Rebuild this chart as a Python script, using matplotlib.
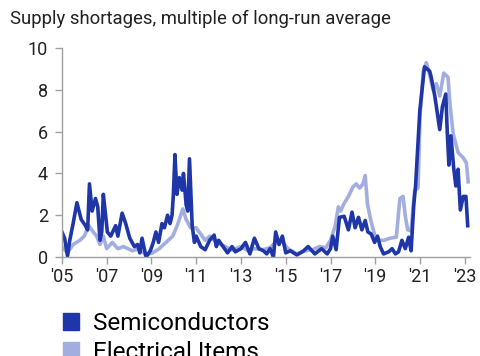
import matplotlib
matplotlib.use("Agg")
import matplotlib.pyplot as plt
from matplotlib.patches import Patch

plt.rcParams['font.family'] = ['Roboto', 'DejaVu Sans']

# Semiconductors: decimal year, multiple of long-run average
semi_t = [2005.00, 2005.12, 2005.25, 2005.35, 2005.50, 2005.67, 2005.86, 2006.05, 2006.15, 2006.23,
          2006.35, 2006.50, 2006.60, 2006.70, 2006.78, 2006.85, 2006.95, 2007.03, 2007.18, 2007.40,
          2007.50, 2007.69, 2007.85, 2008.03, 2008.24, 2008.38, 2008.48, 2008.58, 2008.76, 2008.95,
          2009.08, 2009.20, 2009.32, 2009.47, 2009.58, 2009.72, 2009.83, 2009.92, 2009.98, 2010.05,
          2010.14, 2010.25, 2010.37, 2010.43, 2010.55, 2010.62, 2010.70, 2010.82, 2010.92, 2011.00,
          2011.20, 2011.40, 2011.60, 2011.80, 2011.90, 2012.00, 2012.20, 2012.40, 2012.60, 2012.75,
          2013.00, 2013.20, 2013.40, 2013.60, 2013.80, 2014.00, 2014.15, 2014.30, 2014.45, 2014.55,
          2014.70, 2014.85, 2015.00, 2015.20, 2015.50, 2015.80, 2016.00, 2016.30, 2016.60, 2016.85,
          2017.00, 2017.10, 2017.25, 2017.40, 2017.61, 2017.80, 2017.96, 2018.10, 2018.25, 2018.40,
          2018.55, 2018.67, 2018.82, 2018.97, 2019.10, 2019.22, 2019.37, 2019.60, 2019.75, 2019.90,
          2020.04, 2020.19, 2020.34, 2020.49, 2020.60, 2020.72, 2020.80, 2020.99, 2021.20, 2021.43,
          2021.50, 2021.66, 2021.88, 2022.00, 2022.15, 2022.22, 2022.29, 2022.38, 2022.50, 2022.60,
          2022.70, 2022.80, 2022.93, 2023.05, 2023.13]
semi_v = [1.2, 0.9, 0.05, 0.8, 1.6, 2.6, 1.8, 1.5, 1.3, 3.5,
          2.2, 2.8, 2.4, 0.8, 1.2, 3.0, 2.0, 1.2, 1.0, 1.5,
          1.0, 2.1, 1.6, 0.9, 0.5, 0.6, 0.2, 0.9, 0.0, 0.3,
          0.7, 1.2, 0.7, 1.6, 1.4, 2.0, 1.6, 2.0, 3.0, 4.9,
          3.0, 3.8, 3.2, 4.0, 2.5, 2.2, 4.7, 1.5, 0.7, 1.0,
          0.5, 0.35, 0.8, 1.05, 0.5, 0.8, 0.5, 0.2, 0.5, 0.25,
          0.4, 0.7, 0.15, 0.9, 0.4, 0.3, 0.15, 0.4, 0.0, 1.2,
          0.6, 1.0, 0.2, 0.3, 0.1, 0.3, 0.5, 0.15, 0.4, 0.15,
          0.4, 1.0, 0.35, 1.9, 1.95, 1.3, 2.15, 1.4, 1.9, 1.3,
          1.75, 1.2, 1.1, 0.7, 1.0, 0.5, 0.15, 0.25, 0.4, 0.15,
          0.25, 0.8, 0.4, 0.95, 0.3, 2.5, 3.4, 7.0, 9.1, 8.9,
          8.6, 7.7, 6.1, 7.2, 7.8, 5.9, 4.4, 5.8, 4.3, 3.4,
          4.2, 2.25, 2.9, 2.9, 1.5]

# Electrical items
elec_t = [2005.00, 2005.25, 2005.50, 2005.80, 2006.00, 2006.20, 2006.40, 2006.55, 2006.70, 2006.85,
          2007.00, 2007.25, 2007.50, 2007.75, 2008.15, 2008.45, 2008.75, 2009.05, 2009.35, 2009.65,
          2009.95, 2010.15, 2010.40, 2010.55, 2010.75, 2011.00, 2011.20, 2011.40, 2011.60, 2011.80,
          2012.00, 2012.30, 2012.60, 2013.00, 2013.30, 2013.60, 2014.00, 2014.30, 2014.50, 2014.80,
          2015.10, 2015.50, 2015.90, 2016.20, 2016.50, 2016.80, 2017.00, 2017.20, 2017.35, 2017.45,
          2017.60, 2017.80, 2018.00, 2018.15, 2018.30, 2018.45, 2018.55, 2018.65, 2018.80, 2019.00,
          2019.20, 2019.40, 2019.65, 2019.94, 2020.10, 2020.24, 2020.35, 2020.45, 2020.60, 2020.76,
          2020.91, 2021.00, 2021.14, 2021.28, 2021.43, 2021.58, 2021.73, 2021.88, 2022.06, 2022.25,
          2022.33, 2022.48, 2022.70, 2022.93, 2023.07, 2023.15]
elec_v = [0.5, 0.2, 0.6, 0.8, 1.0, 1.5, 1.2, 1.0, 0.6, 1.0,
          0.4, 0.7, 0.4, 0.5, 0.3, 0.4, 0.1, 0.2, 0.4, 0.7,
          1.0, 1.5, 2.3, 1.8, 1.4, 1.4, 1.1, 0.8, 1.0, 0.8,
          0.65, 0.5, 0.33, 0.5, 0.3, 0.4, 0.35, 0.45, 0.65, 0.8,
          0.4, 0.15, 0.3, 0.35, 0.5, 0.45, 0.8, 1.45, 2.4, 2.2,
          2.55, 2.9, 3.35, 3.5, 3.3, 3.5, 3.9, 2.55, 1.75, 0.95,
          0.8, 0.8, 0.9, 0.95, 2.8, 2.9, 1.9, 1.3, 1.25, 3.2,
          3.3, 6.7, 8.9, 9.3, 8.7, 8.0, 8.3, 7.7, 8.8, 8.6,
          7.4, 5.9, 5.0, 4.75, 4.5, 3.6]

years = [2005, 2007, 2009, 2011, 2013, 2015, 2017, 2019, 2021, 2023]
year_labels = ["'05", "'07", "'09", "'11", "'13", "'15", "'17", "'19", "'21", "'23"]
y_ticks = [0, 2, 4, 6, 8, 10]

dark = '#1f36a8'
light = '#a3aee0'
grey = '#a0a0a0'

fig = plt.figure(figsize=(4.8, 3.56), dpi=100)
ax = fig.add_axes([0.129, 0.278, 0.851, 0.587])

ax.plot(elec_t, elec_v, color=light, lw=2.6, solid_joinstyle='round')
ax.plot(semi_t, semi_v, color=dark, lw=2.6, solid_joinstyle='round')

ax.set_xlim(2005, 2023.25)
ax.set_ylim(0, 10)
ax.set_xticks(years)
ax.set_xticklabels(year_labels)
ax.set_yticks(y_ticks)

for s in ['top', 'right']:
    ax.spines[s].set_visible(False)
for s in ['left', 'bottom']:
    ax.spines[s].set_color(grey)
    ax.spines[s].set_linewidth(1.0)
ax.tick_params(axis='both', colors=grey, length=5, width=1.0, labelsize=13,
               labelcolor='#222222', pad=3)
ax.tick_params(axis='y', pad=5)

fig.text(0.021, 0.948, 'Supply shortages, multiple of long-run average',
         fontsize=13.3, color='#222222', va='center', ha='left')

# legend sits low, second row runs off the bottom edge as in the source
handles = [Patch(color=dark, label='Semiconductors'),
           Patch(color=light, label='Electrical Items')]
fig.legend(handles=handles, loc='upper left', bbox_to_anchor=(0.112, 0.15),
           frameon=False, fontsize=17.5, handlelength=0.65, handleheight=0.7,
           handletextpad=0.55, labelspacing=0.22, borderaxespad=0)

fig.savefig('out.png', dpi=100)
